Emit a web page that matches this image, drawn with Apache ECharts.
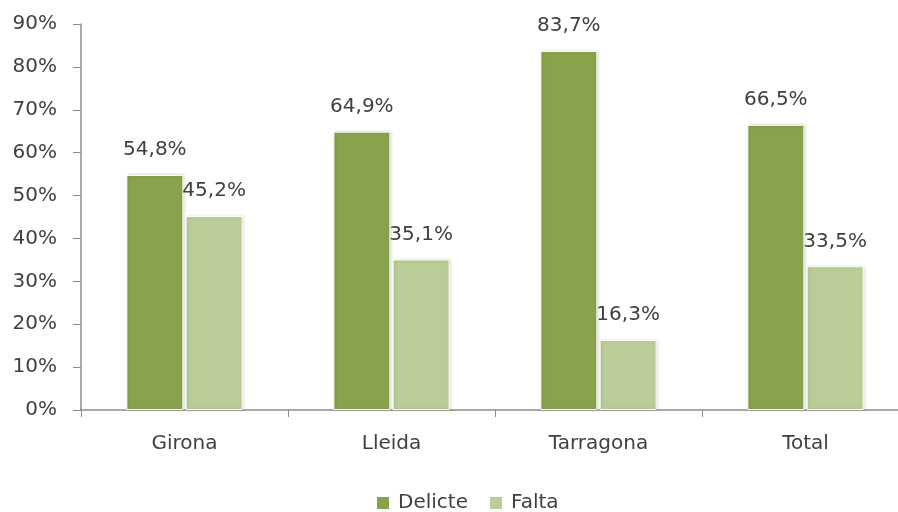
<!DOCTYPE html>
<html><head><meta charset="utf-8">
<script src="https://cdn.jsdelivr.net/npm/echarts@6/dist/echarts.min.js"></script>
<style>html,body{margin:0;padding:0;background:#fff;overflow:hidden;width:898px;height:512px}#c{width:912px;height:512px}</style>
</head><body><div id="c"></div>
<script>
var categories = ['Girona', 'Lleida', 'Tarragona', 'Total'];
var delicte = [54.8, 64.9, 83.7, 66.5];
var falta = [45.2, 35.1, 16.3, 33.5];
var seriesNames = ['Delicte', 'Falta'];

var font = 'DejaVu Sans';
var txt = '#404040';
var fs = 20;
function fmt(p){ return p.value.toFixed(1).replace('.', ',') + '%'; }
var chart = echarts.init(document.getElementById('c'));
chart.setOption({
  animation: false,
  textStyle: {fontFamily: font},
  grid: {left: 81, top: 24, right: 3, height: 386},
  legend: {
    top: 488, left: 372, itemWidth: 12, itemHeight: 12, itemGap: 22,
    icon: 'rect',
    itemStyle: {borderWidth: 0, shadowBlur: 0, shadowOffsetX: 0},
    textStyle: {fontFamily: font, fontSize: fs, color: txt, padding: [0, 0, 0, 4]}
  },
  xAxis: {
    type: 'category', data: categories,
    axisLine: {lineStyle: {color: '#8c8c8c', width: 1.5}},
    axisTick: {show: true, length: 7, lineStyle: {color: '#8c8c8c'}},
    axisLabel: {fontFamily: font, fontSize: fs, color: txt, margin: 24}
  },
  yAxis: {
    type: 'value', min: 0, max: 90, interval: 10,
    axisLine: {show: true, lineStyle: {color: '#8c8c8c', width: 1.5}},
    axisTick: {show: true, length: 8, inside: false, lineStyle: {color: '#8c8c8c'}},
    splitLine: {show: false},
    axisLabel: {fontFamily: font, fontSize: fs, color: txt, margin: 24, formatter: '{value}%'}
  },
  series: [
    {name: seriesNames[0], type: 'bar', data: delicte, barWidth: 57, barGap: '4%',
     itemStyle: {color: '#88a34c', borderColor: '#ffffff', borderWidth: 1, shadowColor: 'rgba(0,0,0,0.18)', shadowBlur: 3, shadowOffsetX: 1},
     label: {show: true, position: 'top', distance: 15, formatter: fmt, fontFamily: font, fontSize: fs, color: txt}},
    {name: seriesNames[1], type: 'bar', data: falta, barWidth: 57,
     itemStyle: {color: '#bacd96', borderColor: '#ffffff', borderWidth: 1, shadowColor: 'rgba(0,0,0,0.18)', shadowBlur: 3, shadowOffsetX: 1},
     label: {show: true, position: 'top', distance: 15, formatter: fmt, fontFamily: font, fontSize: fs, color: txt}}
  ]
});
</script></body></html>
